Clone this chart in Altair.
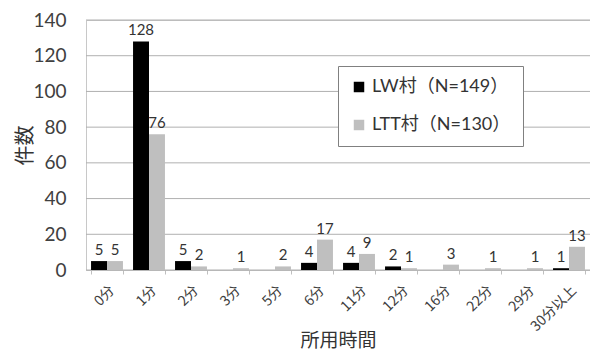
import altair as alt
import pandas as pd

categories = ["0分", "1分", "2分", "3分", "5分", "6分", "11分", "12分", "16分", "22分", "29分", "30分以上"]
lw_values = [5, 128, 5, 0, 0, 4, 4, 2, 0, 0, 0, 1]
ltt_values = [5, 76, 2, 1, 2, 17, 9, 1, 3, 1, 1, 13]
series_names = ["LW村（N=149）", "LTT村（N=130）"]
series_colors = ["#000000", "#BFBFBF"]
y_ticks = [0, 20, 40, 60, 80, 100, 120, 140]

rows = []
for c, a, b in zip(categories, lw_values, ltt_values):
    rows.append({"cat": c, "series": series_names[0], "value": a})
    rows.append({"cat": c, "series": series_names[1], "value": b})
df = pd.DataFrame(rows)
grid_df = pd.DataFrame({"gv": y_ticks})

FONT = "Lato, Noto Sans CJK JP"
CJK = "Noto Sans CJK JP"

x_axis = alt.Axis(title="所用時間", labelAngle=-45, labelFontSize=14, labelColor="#404040",
                  labelFont=CJK, titleFont=CJK, titleFontSize=19, titleFontWeight="normal",
                  titleColor="#333333", titleBaseline="alphabetic", titleY=76,
                  tickBand="extent", tickSize=4, tickColor="#BFBFBF", grid=False,
                  domainColor="#BFBFBF", labelPadding=9)
y_axis = alt.Axis(title="件数", values=y_ticks, labelFontSize=19,
                  labelColor="#404040", labelFont=FONT, titleFont=CJK, titleFontSize=20,
                  titleFontWeight="normal", titleColor="#333333", ticks=False,
                  labelOverlap=False, grid=False,
                  domain=False, labelPadding=20,
                  titleX=-61, titleY=125, titleAlign="center", titleBaseline="middle", titleAngle=270)
x_scale = alt.Scale(paddingInner=0.24, paddingOuter=0.12)
y_scale = alt.Scale(domain=[0, 140])

xo_enc = alt.XOffset("series:N", sort=series_names, scale=alt.Scale(domain=series_names, paddingInner=0, paddingOuter=0))

grid = alt.Chart(grid_df).mark_rule(color="#B0B0B0", strokeWidth=1).encode(
    y=alt.Y("gv:Q", scale=y_scale, axis=y_axis),
    x=alt.value(0),
    x2=alt.value(504),
)

bars = alt.Chart(df).mark_bar().encode(
    x=alt.X("cat:N", sort=categories, scale=x_scale, axis=x_axis),
    xOffset=xo_enc,
    y=alt.Y("value:Q", scale=y_scale, axis=y_axis),
    color=alt.Color("series:N", sort=series_names,
                    scale=alt.Scale(domain=series_names, range=series_colors),
                    legend=alt.Legend(title=None, orient="none", legendX=252, legendY=46,
                                      labelFont=FONT, labelFontSize=18, labelColor="#333333",
                                      symbolType="square", symbolSize=110, symbolStrokeWidth=0,
                                      fillColor="white", strokeColor="#808080", padding=12,
                                      rowPadding=20, labelOffset=4)),
)

labels = alt.Chart(df).transform_filter("datum.value > 0").mark_text(
    baseline="bottom", dy=-3, fontSize=15, font=FONT, color="#333333"
).encode(
    x=alt.X("cat:N", sort=categories, scale=x_scale, axis=x_axis),
    xOffset=xo_enc,
    y=alt.Y("value:Q", scale=y_scale, axis=y_axis),
    text="value:Q",
)

chart = alt.layer(grid, bars, labels).properties(
    width=504, height=250,
    autosize=alt.AutoSizeParams(type="none"),
    padding={"left": 86, "top": 20, "right": 0, "bottom": 82},
).configure_view(stroke="#C8C8C8")

chart.save("out.html", embed_options={"renderer": "svg", "actions": False})
